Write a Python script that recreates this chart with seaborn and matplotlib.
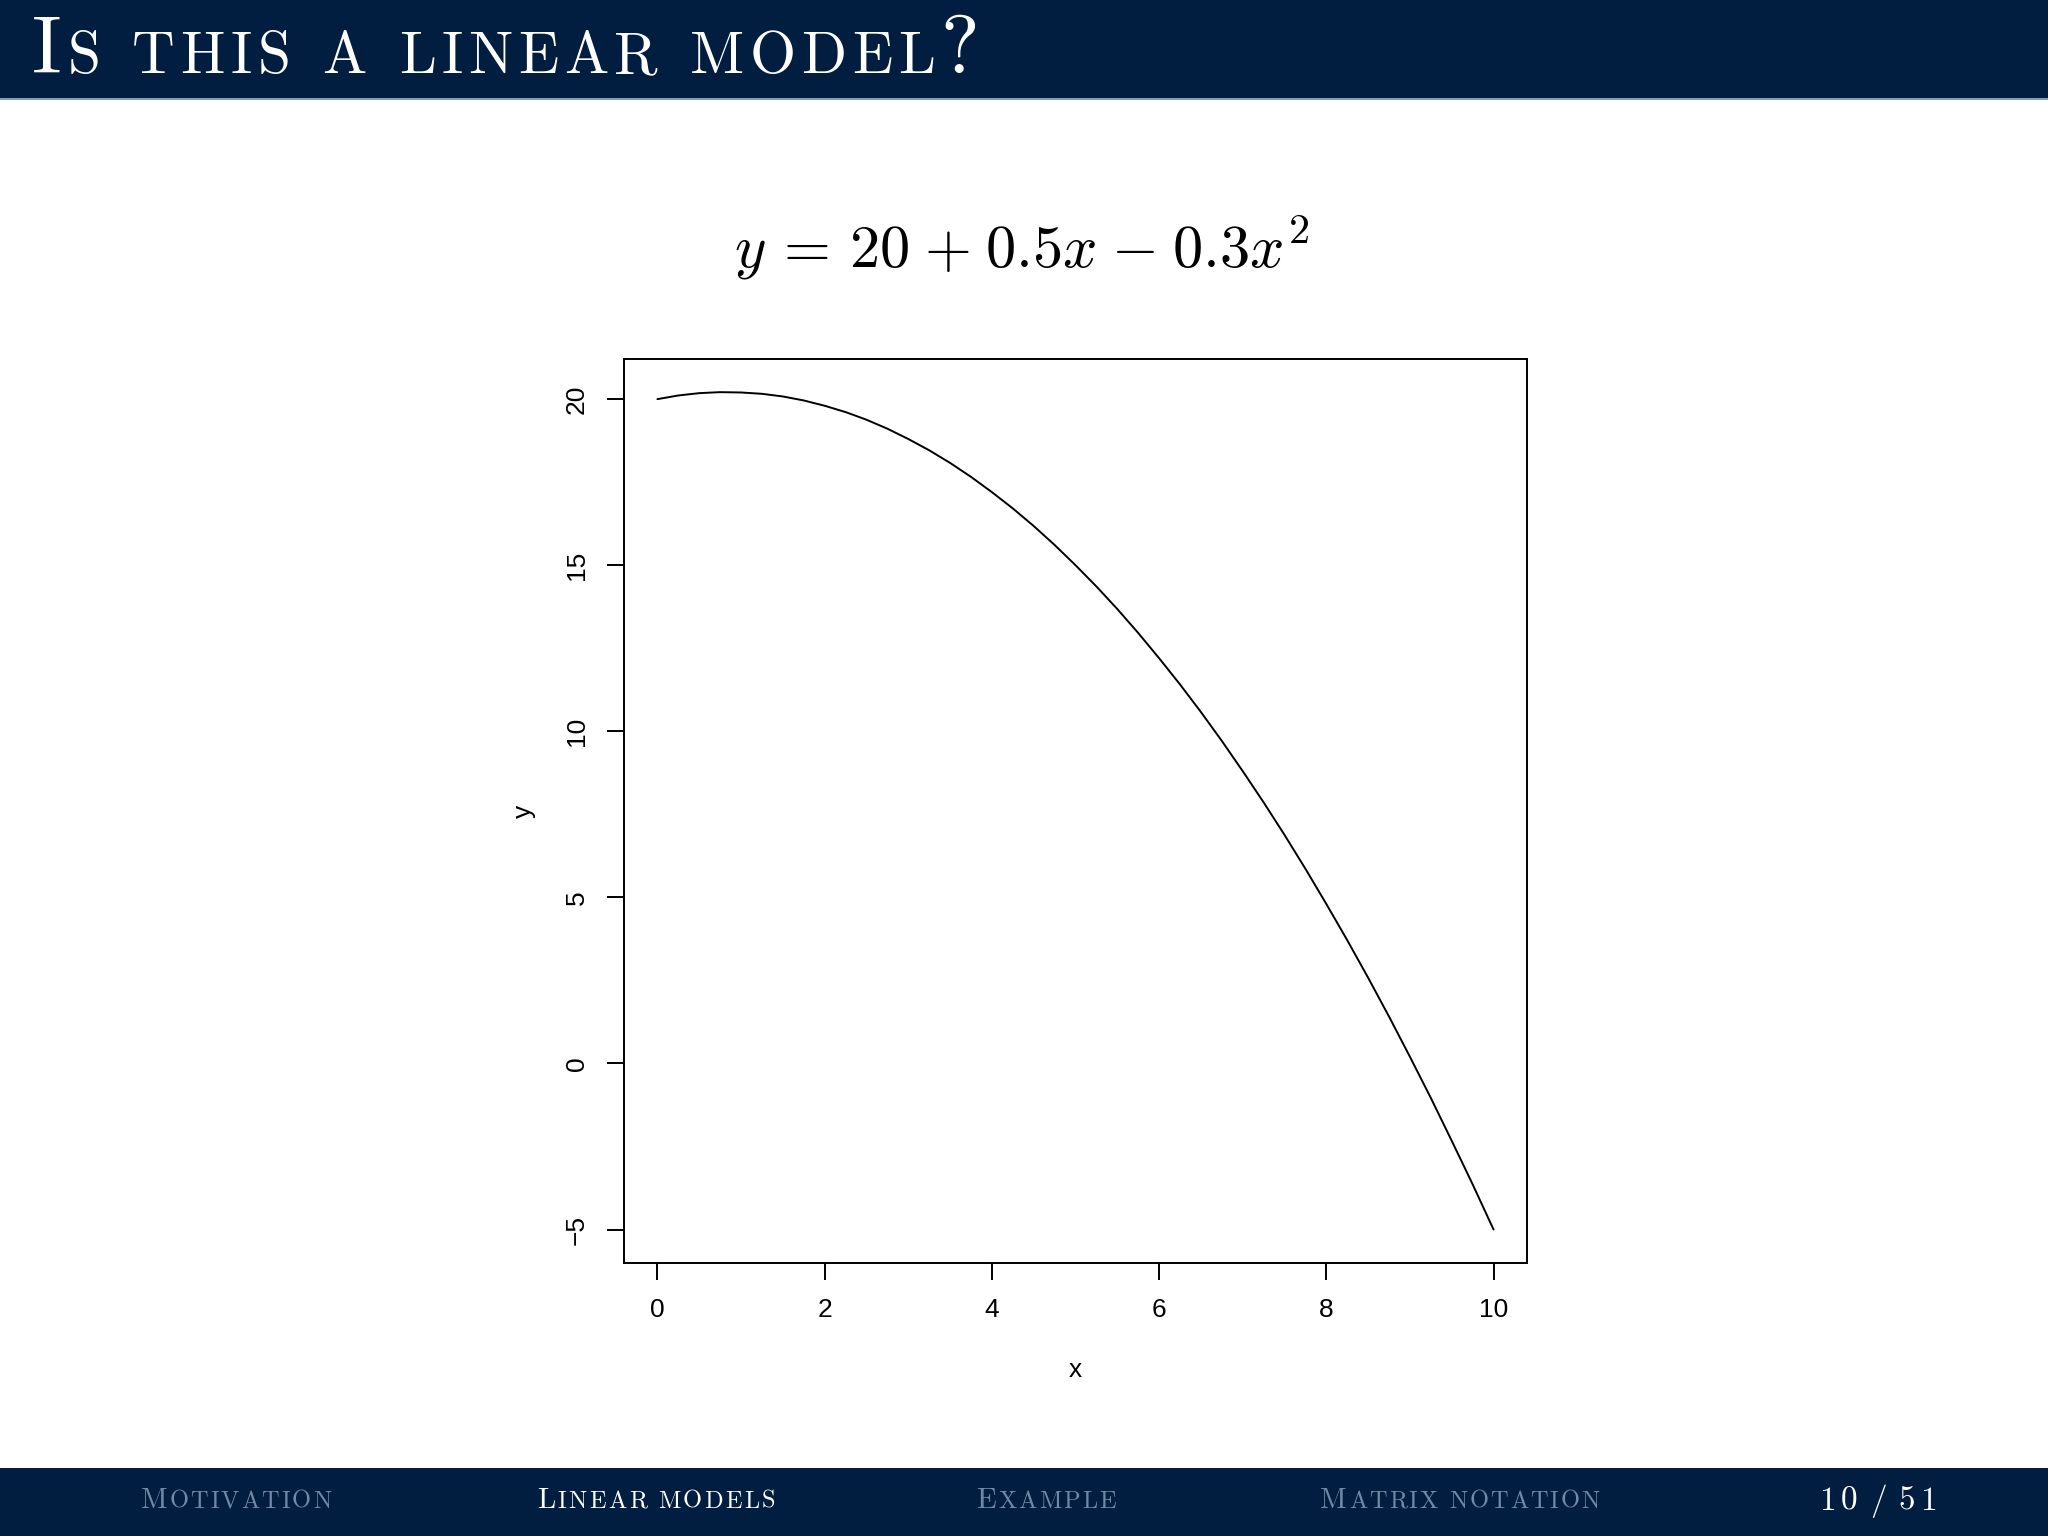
import matplotlib
matplotlib.use("Agg")
import matplotlib.pyplot as plt
from matplotlib.patches import Rectangle
import seaborn as sns
import pandas as pd

# ---------------- data ----------------
x_values = [0.0, 0.25, 0.5, 0.75, 1.0, 1.25, 1.5, 1.75, 2.0, 2.25, 2.5, 2.75,
            3.0, 3.25, 3.5, 3.75, 4.0, 4.25, 4.5, 4.75, 5.0, 5.25, 5.5, 5.75,
            6.0, 6.25, 6.5, 6.75, 7.0, 7.25, 7.5, 7.75, 8.0, 8.25, 8.5, 8.75,
            9.0, 9.25, 9.5, 9.75, 10.0]
y_values = [20.0, 20.11, 20.18, 20.21, 20.2, 20.16, 20.08, 19.96, 19.8, 19.61,
            19.38, 19.11, 18.8, 18.46, 18.08, 17.66, 17.2, 16.71, 16.18, 15.61,
            15.0, 14.36, 13.68, 12.96, 12.2, 11.41, 10.58, 9.71, 8.8, 7.86,
            6.88, 5.86, 4.8, 3.71, 2.58, 1.41, 0.2, -1.04, -2.33, -3.64, -5.0]
x_ticks = [0, 2, 4, 6, 8, 10]
x_tick_labels = ["0", "2", "4", "6", "8", "10"]
y_ticks = [-5, 0, 5, 10, 15, 20]
y_tick_labels = ["\u22125", "0", "5", "10", "15", "20"]
x_label = "x"
y_label = "y"
slide_title = "Is this a linear model?"
equation = (r"$y\,=\,20\hspace{0.07}+\hspace{0.07}0.5x"
            r"\hspace{0.07}-\hspace{0.07}0.3x^2$")
nav_items = ["Motivation", "Linear models", "Example", "Matrix notation"]
active_item = "Linear models"
page_label = "10 / 51"

# ---------------- figure ----------------
W, H, DPI = 2048, 1536, 100
sns.set_theme(style="ticks")
plt.rcParams["font.family"] = ["Liberation Sans", "DejaVu Sans"]
plt.rcParams["mathtext.fontset"] = "cm"

NAVY = "#011d3f"
GREY = "#7189a6"

fig = plt.figure(figsize=(W / DPI, H / DPI), dpi=DPI, facecolor="white")
fig.patches.append(Rectangle((0, 1 - 98 / H), 1, 98 / H, transform=fig.transFigure,
                             facecolor=NAVY, edgecolor="none", zorder=0))
fig.patches.append(Rectangle((0, 1 - 100 / H), 1, 2 / H, transform=fig.transFigure,
                             facecolor="#8a9bb8", edgecolor="none", zorder=0))
fig.patches.append(Rectangle((0, 0), 1, (H - 1468) / H, transform=fig.transFigure,
                             facecolor=NAVY, edgecolor="none", zorder=0))

# ---------------- plot ----------------
ax = fig.add_axes([624 / W, 1 - 1263 / H, (1527 - 624) / W, (1263 - 359) / H])
df = pd.DataFrame({"x": x_values, "y": y_values})
sns.lineplot(data=df, x="x", y="y", color="black", linewidth=1.4,
             estimator=None, sort=False, ax=ax)
ax.set_xlim(-0.4, 10.4)
ax.set_ylim(-6.008, 21.208)
ax.set_xticks(x_ticks)
ax.set_xticklabels(x_tick_labels)
ax.set_yticks(y_ticks)
ax.set_yticklabels(y_tick_labels)
for s in ax.spines.values():
    s.set_visible(True)
    s.set_linewidth(1.4)
    s.set_color("black")
ax.tick_params(axis="both", direction="out", length=12.2, width=1.4, pad=13,
               labelsize=19, colors="black")
for lbl in ax.get_yticklabels():
    lbl.set_rotation(90)
    lbl.set_va("center")
    lbl.set_ha("right")
ax.set_xlabel(x_label, fontsize=19, color="black")
ax.xaxis.set_label_coords(0.5, -(1377 - 1263) / 904)
ax.xaxis.label.set_va("baseline")
ax.set_ylabel(y_label, fontsize=19, color="black")
ax.yaxis.set_label_coords((524 - 624) / 903, 0.5)
ax.yaxis.label.set_va("center")

# ---------------- equation ----------------
fig.text(1022 / W, 1 - 268 / H, equation, fontsize=43.5, ha="center",
         va="baseline", color="black")

# ---------------- small caps helper ----------------
renderer = fig.canvas.get_renderer()


def draw_smallcaps(text, x0, baseline, big, small, color, char_gap, word_gap):
    arts = []
    x = x0
    last_x1 = None
    for ch in text:
        if ch == " ":
            if last_x1 is not None:
                x = last_x1 + word_gap
            continue
        size = small if ch.islower() else big
        t = fig.text(x / W, 1 - baseline / H, ch.upper(), fontsize=size,
                     family="cmr10", color=color, ha="left", va="baseline")
        bb = t.get_window_extent(renderer)
        dx = x - bb.x0
        t.set_position(((x + dx) / W, 1 - baseline / H))
        arts.append((t, x + dx))
        last_x1 = bb.x1 + dx
        x = last_x1 + char_gap
    return arts, last_x1 - x0


def center_smallcaps(text, cx, baseline, big, small, color, char_gap, word_gap):
    arts, width = draw_smallcaps(text, 0, baseline, big, small, color, char_gap, word_gap)
    shift = cx - width / 2
    for t, x in arts:
        t.set_position(((x + shift) / W, 1 - baseline / H))


# title
draw_smallcaps(slide_title, 32, 73, 59, 42.6, "white", 5.6, 32)

# footer navigation
nav_centers = [236, 656, 1046, 1460]
nav_char_gaps = [2.0, 2.3, 2.0, 2.0]
for item, cx, cg in zip(nav_items, nav_centers, nav_char_gaps):
    col = "white" if item == active_item else GREY
    center_smallcaps(item, cx, 1508, 21, 17.6, col, cg, 11)
center_smallcaps(page_label, 1878, 1510, 24, 24, "white", 5, 12)

fig.savefig("out.png", dpi=DPI, facecolor="white")
